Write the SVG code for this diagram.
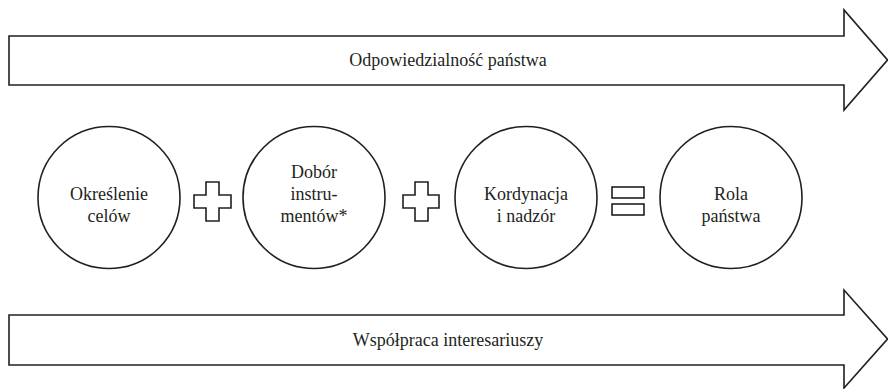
<svg xmlns="http://www.w3.org/2000/svg" width="888" height="389" viewBox="0 0 888 389">
<style>
.sh{fill:#fff;stroke:#231f20;stroke-width:1.6;stroke-linejoin:miter}
.t{font-family:"Liberation Serif","Times New Roman",serif;font-size:18px;fill:#231f20;text-anchor:middle}
</style>
<rect width="888" height="389" fill="#fff"/>
<g id="arrow-top">
<polygon class="sh" points="9,36 844,36 844,10 887.5,60 844,110 844,85 9,85"/>
<text class="t" x="448" y="66">Odpowiedzialność państwa</text>
</g>
<g id="arrow-bottom">
<polygon class="sh" points="9,315 844,315 844,290 887.5,339 844,388 844,365 9,365"/>
<text class="t" x="448" y="346">Współpraca interesariuszy</text>
</g>
<g id="c1">
<circle class="sh" cx="109" cy="197.5" r="71"/>
<text class="t" x="109"><tspan x="109" y="200">Określenie</tspan><tspan x="109" y="222">celów</tspan></text>
</g>
<g id="c2">
<circle class="sh" cx="314" cy="197.5" r="71"/>
<text class="t"><tspan x="314" y="178">Dobór</tspan><tspan x="314" y="200">instru-</tspan><tspan x="314" y="222">mentów*</tspan></text>
</g>
<g id="c3">
<circle class="sh" cx="526" cy="197.5" r="71"/>
<text class="t"><tspan x="526" y="200">Kordynacja</tspan><tspan x="526" y="222">i nadzór</tspan></text>
</g>
<g id="c4">
<circle class="sh" cx="731" cy="197.5" r="71"/>
<text class="t"><tspan x="731" y="200">Rola</tspan><tspan x="731" y="222">państwa</tspan></text>
</g>
<g id="operators">
<polygon class="sh" points="206,182 219,182 219,195 231,195 231,208 219,208 219,221 206,221 206,208 194,208 194,195 206,195"/>
<polygon class="sh" points="415,182 428,182 428,195 439,195 439,208 428,208 428,221 415,221 415,208 403,208 403,195 415,195"/>
<rect class="sh" x="612" y="187" width="32" height="11"/>
<rect class="sh" x="612" y="204" width="32" height="11"/>
</g>
</svg>
